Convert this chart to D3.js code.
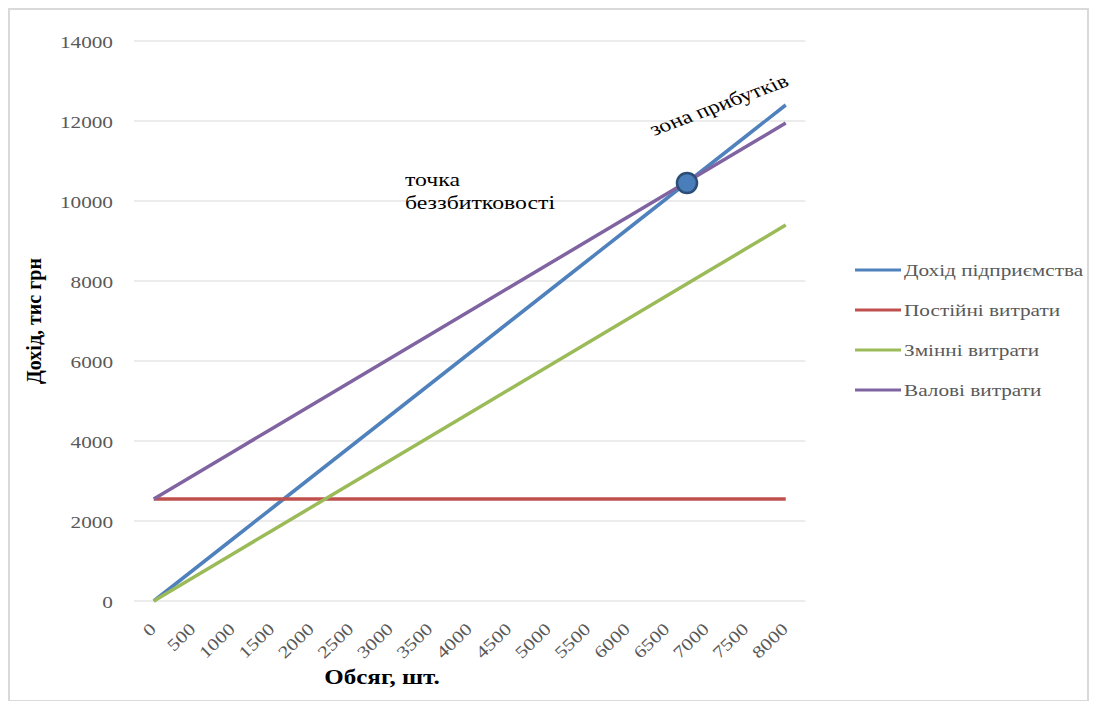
<!DOCTYPE html>
<html>
<head>
<meta charset="utf-8">
<script src="https://cdn.jsdelivr.net/npm/d3@7"></script>
<style>
  body { margin: 0; background: #fff; }
  svg text { font-family: "Liberation Serif", "DejaVu Serif", serif; }
</style>
</head>
<body>
<script>
// обсяг, шт.
var volumes = [0, 500, 1000, 1500, 2000, 2500, 3000, 3500, 4000, 4500, 5000, 5500, 6000, 6500, 7000, 7500, 8000];
// тис грн
var revenue  = [0, 775, 1550, 2325, 3100, 3875, 4650, 5425, 6200, 6975, 7750, 8525, 9300, 10075, 10850, 11625, 12400];
var fixed    = [2550, 2550, 2550, 2550, 2550, 2550, 2550, 2550, 2550, 2550, 2550, 2550, 2550, 2550, 2550, 2550, 2550];
var variable = [0, 590, 1175, 1765, 2350, 2940, 3525, 4110, 4700, 5290, 5875, 6460, 7050, 7640, 8225, 8810, 9400];
var total    = [2550, 3140, 3725, 4315, 4900, 5490, 6075, 6660, 7250, 7840, 8425, 9010, 9600, 10190, 10775, 11360, 11950];
var seriesNames = ["Дохід підприємства", "Постійні витрати", "Змінні витрати", "Валові витрати"];
var yTicks = [0, 2000, 4000, 6000, 8000, 10000, 12000, 14000];
var breakEven = { volume: 6750, value: 10450 };

var colors = ["#4f81bd", "#c0504d", "#9bbb59", "#8064a2"];
var series = [revenue, fixed, variable, total];
var sx = 1.25; // текст у зразку трохи розтягнутий по горизонталі
var serif = "'Liberation Serif', 'DejaVu Serif', serif";

var svg = d3.select("body").append("svg")
    .attr("width", 1093)
    .attr("height", 701);

svg.append("rect")
    .attr("x", 9).attr("y", 9)
    .attr("width", 1079).attr("height", 692)
    .attr("fill", "none")
    .attr("stroke", "#d9d9d9")
    .attr("stroke-width", 2);

var x = d3.scalePoint().domain(volumes).range([134, 805.5]).padding(0.5);
var xv = d3.scaleLinear().domain([0, 8000]).range([x(0), x(8000)]);
var y = d3.scaleLinear().domain([0, 14000]).range([601, 41]);

// сітка
svg.append("g").selectAll("line")
    .data(yTicks)
    .enter()
    .append("line")
    .attr("x1", 134).attr("x2", 805.5)
    .attr("y1", function(d) { return y(d); })
    .attr("y2", function(d) { return y(d); })
    .attr("stroke", "#d9d9d9")
    .attr("stroke-width", 1.2);

// вісь Y
var yAxis = svg.append("g")
    .attr("transform", "translate(134,0)")
    .call(d3.axisLeft(y).tickValues(yTicks).tickFormat(d3.format("d")).tickSize(0).tickPadding(0));
yAxis.select(".domain").remove();
yAxis.selectAll("text")
    .attr("x", null).attr("dy", null)
    .attr("transform", "translate(-21,6) scale(" + sx + ",1)")
    .attr("fill", "#595959")
    .style("font-size", "17px")
    .style("font-family", serif);

// вісь X
var xAxis = svg.append("g")
    .attr("transform", "translate(0,601)")
    .call(d3.axisBottom(x).tickSize(0).tickPadding(0));
xAxis.select(".domain").remove();
xAxis.selectAll("text")
    .attr("y", null).attr("dy", null)
    .attr("text-anchor", "end")
    .attr("transform", "translate(3,29) rotate(-44) scale(" + sx + ",1)")
    .attr("fill", "#595959")
    .style("font-size", "17px")
    .style("font-family", serif);

// лінії
var line = d3.line()
    .x(function(d, i) { return x(volumes[i]); })
    .y(function(d) { return y(d); });

svg.append("g").selectAll("path")
    .data(series)
    .enter()
    .append("path")
    .attr("d", line)
    .attr("fill", "none")
    .attr("stroke", function(d, i) { return colors[i]; })
    .attr("stroke-width", 3.5)
    .attr("stroke-linejoin", "round");

// точка беззбитковості
svg.append("circle")
    .attr("cx", xv(breakEven.volume))
    .attr("cy", y(breakEven.value))
    .attr("r", 10)
    .attr("fill", "#4a7ebb")
    .attr("stroke", "#2c4d75")
    .attr("stroke-width", 2.5);

function label(tr, size, txt) {
  return svg.append("text")
      .attr("transform", tr)
      .style("font-family", serif)
      .style("font-size", size)
      .attr("fill", "#000")
      .text(txt);
}
label("translate(405,186) scale(" + sx + ",1)", "19px", "точка");
label("translate(405,209) scale(" + sx + ",1)", "19px", "беззбитковості");
label("translate(654,136) scale(" + sx + ",1) rotate(-25)", "19px", "зона прибутків");

// підписи осей
label("translate(382,684) scale(" + sx + ",1)", "20px", "Обсяг, шт.")
    .attr("text-anchor", "middle")
    .style("font-weight", "bold");
label("translate(41,321) rotate(-90)", "20px", "Дохід, тис грн")
    .attr("text-anchor", "middle")
    .style("font-weight", "bold");

// легенда
var legend = svg.append("g").selectAll("g")
    .data(seriesNames)
    .enter()
    .append("g")
    .attr("transform", function(d, i) { return "translate(855," + (270 + i * 40) + ")"; });
legend.append("line")
    .attr("x1", 0).attr("x2", 46)
    .attr("stroke", function(d, i) { return colors[i]; })
    .attr("stroke-width", 3);
legend.append("text")
    .attr("transform", "translate(49,6) scale(" + sx + ",1)")
    .attr("fill", "#595959")
    .style("font-family", serif)
    .style("font-size", "17px")
    .text(function(d) { return d; });
</script>
</body>
</html>
